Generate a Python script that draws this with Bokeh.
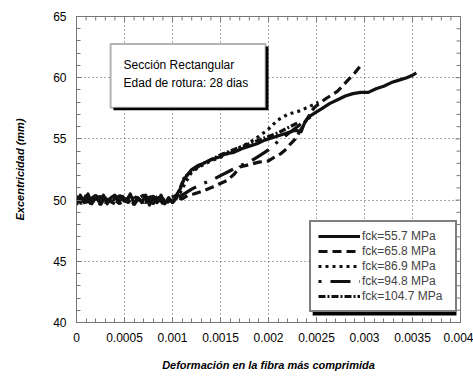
import numpy as np
from bokeh.plotting import figure
from bokeh.models import (Range1d, SingleIntervalTicker, NumeralTickFormatter,
                          Legend, LegendItem, BoxAnnotation, Label)
from bokeh.embed import file_html
from bokeh.resources import INLINE

FONT = "Liberation Sans"

# Strain in the most compressed fibre vs. eccentricity (mm), five concrete strengths
strain_557 = [0, 0.00004, 0.00008, 0.00012, 0.00016, 0.0002, 0.00024, 0.00028, 0.00032, 0.00036,
              0.0004, 0.00044, 0.00048, 0.00052, 0.00056, 0.0006, 0.00064, 0.00068, 0.00072, 0.00076,
              0.0008, 0.00084, 0.00088, 0.00092, 0.00096, 0.001, 0.00104,
              0.00108, 0.00112, 0.00116, 0.0012, 0.00126, 0.00132, 0.0014, 0.00148, 0.00156, 0.00164,
              0.00172, 0.0018, 0.00188, 0.00196, 0.00204, 0.00212, 0.0022, 0.00228, 0.00234, 0.00238,
              0.00242, 0.00248, 0.00256, 0.00264, 0.00272, 0.0028, 0.00288, 0.00296, 0.00304, 0.00312,
              0.0032, 0.00328, 0.00336, 0.00344, 0.0035, 0.00354]
exc_557 = [49.6, 50.4, 49.8, 50.5, 49.7, 50.3, 49.8, 50.4, 49.7, 50.2,
           50.4, 49.8, 50.3, 49.9, 50.5, 49.7, 50.2, 49.8, 50.4, 49.6,
           50.3, 49.8, 50.4, 49.7, 50.2, 49.8, 50.4,
           50.9, 51.7, 52.1, 52.5, 52.8, 53.0, 53.3, 53.5, 53.8, 53.9,
           54.2, 54.4, 54.6, 54.9, 55.1, 55.3, 55.5, 55.7, 55.6, 56.4,
           56.8, 57.1, 57.5, 57.9, 58.2, 58.5, 58.7, 58.8, 58.8, 59.1,
           59.3, 59.6, 59.8, 60.0, 60.2, 60.4]

strain_658 = [0, 0.00005, 0.0001, 0.00015, 0.0002, 0.00025, 0.0003, 0.00035, 0.0004, 0.00045,
              0.0005, 0.00055, 0.0006, 0.00065, 0.0007, 0.00075, 0.0008, 0.00085, 0.0009, 0.00095,
              0.001, 0.00105, 0.0011, 0.00116, 0.00122, 0.0013, 0.0014, 0.00148, 0.00157, 0.00164,
              0.0017, 0.0018, 0.0019, 0.002, 0.00206, 0.00213, 0.00219, 0.00223, 0.00228, 0.00234,
              0.0024, 0.00247, 0.00253, 0.0026, 0.00266, 0.00272, 0.00278, 0.00284, 0.0029, 0.00295]
exc_658 = [50.3, 49.7, 50.4, 49.8, 50.2, 49.6, 50.3, 49.9, 49.7, 50.4,
           49.8, 50.3, 49.6, 50.2, 50.4, 49.8, 50.1, 50.3, 49.7, 50.2,
           49.8, 50.2, 50.1, 50.4, 50.5, 50.7, 51.0, 51.3, 51.6, 52.1,
           52.7, 52.9, 53.1, 53.2, 53.5, 53.8, 54.2, 54.6, 55.0, 55.8,
           56.6, 57.5, 57.9, 58.3, 58.6, 58.9, 59.4, 59.9, 60.4, 60.9]

strain_869 = [0, 0.00006, 0.00012, 0.00018, 0.00024, 0.0003, 0.00036, 0.00042, 0.00048, 0.00054,
              0.0006, 0.00066, 0.00072, 0.00078, 0.00084, 0.0009, 0.00096, 0.00102,
              0.00108, 0.00114, 0.0012, 0.0013, 0.0014, 0.0015, 0.0016, 0.0017, 0.0018, 0.0019,
              0.002, 0.00209, 0.0022, 0.00233, 0.00244, 0.00252]
exc_869 = [50.1, 49.8, 50.3, 50.0, 49.7, 50.2, 49.9, 50.3, 50.1, 49.8,
           50.2, 50.0, 49.8, 50.3, 49.9, 50.1, 50.0, 50.3,
           50.6, 51.5, 52.3, 52.8, 53.2, 53.5, 53.9, 54.3, 54.7, 55.2,
           55.8, 56.5, 57.0, 57.3, 57.7, 58.0]

strain_948 = [0, 0.00005, 0.0001, 0.00015, 0.0002, 0.00025, 0.0003, 0.00035, 0.0004, 0.00045,
              0.0005, 0.00055, 0.0006, 0.00065, 0.0007, 0.00075, 0.0008, 0.00085, 0.0009, 0.00095,
              0.001, 0.00108, 0.0012, 0.0013, 0.0014, 0.0015, 0.0016, 0.0017, 0.0018, 0.0019,
              0.002, 0.0021, 0.0022, 0.0023, 0.0024, 0.00248]
exc_948 = [49.9, 50.3, 49.8, 50.1, 50.4, 49.9, 50.2, 49.7, 50.1, 50.3,
           49.9, 50.0, 50.3, 49.8, 50.2, 50.0, 49.7, 50.2, 50.1, 49.9,
           50.2, 50.3, 50.9, 51.3, 51.6, 52.0, 52.4, 52.8, 53.1, 53.6,
           54.1, 54.8, 55.4, 56.0, 56.6, 57.0]

strain_1047 = [0, 0.00005, 0.0001, 0.00015, 0.0002, 0.00025, 0.0003, 0.00035, 0.0004, 0.00045,
               0.0005, 0.00055, 0.0006, 0.00065, 0.0007, 0.00075, 0.0008, 0.00085, 0.0009, 0.00095,
               0.001, 0.00104, 0.00108, 0.00112, 0.0012, 0.0013, 0.0014, 0.0015, 0.0016, 0.0017,
               0.0018, 0.0019, 0.002, 0.0021, 0.0022, 0.0023]
exc_1047 = [50.3, 49.9, 50.1, 49.7, 50.2, 50.3, 49.8, 50.1, 50.0, 49.7,
            50.2, 49.9, 50.3, 50.1, 49.8, 50.2, 50.3, 49.9, 50.1, 49.8,
            50.3, 50.1, 51.0, 51.8, 52.4, 52.9, 53.3, 53.7, 54.0, 54.3,
            54.6, 54.9, 55.2, 55.5, 55.9, 56.3]

series_labels = ["fck=55.7 MPa", "fck=65.8 MPa", "fck=86.9 MPa", "fck=94.8 MPa", "fck=104.7 MPa"]

x_ticks = [0, 0.0005, 0.001, 0.0015, 0.002, 0.0025, 0.003, 0.0035, 0.004]
y_ticks = [40, 45, 50, 55, 60, 65]
N_MINOR = 5

p = figure(width=473, height=376, output_backend="svg", toolbar_location=None,
           x_range=Range1d(x_ticks[0], x_ticks[-1]), y_range=Range1d(y_ticks[0], y_ticks[-1]),
           min_border_left=76, min_border_right=13, min_border_top=16, min_border_bottom=54,
           background_fill_color="white", border_fill_color="white")
p.outline_line_color = "#777777"
p.outline_line_width = 1

x_ticker = SingleIntervalTicker(interval=x_ticks[1] - x_ticks[0], num_minor_ticks=N_MINOR)
y_ticker = SingleIntervalTicker(interval=y_ticks[1] - y_ticks[0], num_minor_ticks=N_MINOR)

AX_COLOR = "#777777"

def style_axis(ax):
    ax.axis_line_color = AX_COLOR
    ax.major_tick_line_color = AX_COLOR
    ax.minor_tick_line_color = AX_COLOR
    ax.major_tick_in = 5
    ax.major_tick_out = 0
    ax.minor_tick_in = 4
    ax.minor_tick_out = 0
    ax.major_label_text_font = FONT
    ax.major_label_text_font_size = "12px"
    ax.major_label_text_color = "black"
    ax.major_label_standoff = 10
    ax.axis_label_text_font = FONT
    ax.axis_label_text_font_size = "11px"
    ax.axis_label_text_font_style = "bold italic"
    ax.axis_label_text_color = "black"

xa = p.xaxis[0]
xa.ticker = x_ticker
xa.formatter = NumeralTickFormatter(format="0.[0000]")
style_axis(xa)
xa.axis_label = "Deformación en la fibra más comprimida"
xa.axis_label_standoff = 14

ya = p.yaxis[0]
ya.ticker = y_ticker
style_axis(ya)
ya.axis_label = "Excentricidad (mm)"
ya.axis_label_standoff = 24

for g in (p.xgrid[0], p.ygrid[0]):
    g.grid_line_color = "#555555"
    g.grid_line_dash = "1 3"
    g.grid_line_width = 1
p.xgrid[0].ticker = x_ticker
p.ygrid[0].ticker = y_ticker

# mirrored inward ticks on the top and right frame edges (clipped to the frame)
def tick_positions(ticks):
    major = np.array(ticks, dtype=float)
    step = (major[1] - major[0]) / N_MINOR
    minor = np.concatenate([major[i] + step * np.arange(1, N_MINOR) for i in range(len(major) - 1)])
    return major, minor

xmaj, xmin = tick_positions(x_ticks)
ymaj, ymin = tick_positions(y_ticks)
top = y_ticks[-1]
right = x_ticks[-1]
p.scatter(xmaj, [top] * len(xmaj), marker="dash", size=10, angle=np.pi / 2, line_color=AX_COLOR, line_width=1)
p.scatter(xmin, [top] * len(xmin), marker="dash", size=8, angle=np.pi / 2, line_color=AX_COLOR, line_width=1)
p.scatter([right] * len(ymaj), ymaj, marker="dash", size=10, line_color=AX_COLOR, line_width=1)
p.scatter([right] * len(ymin), ymin, marker="dash", size=8, line_color=AX_COLOR, line_width=1)

ink = "#111111"
lw = 3.2
r1 = p.line(strain_557, exc_557, line_color=ink, line_width=lw, line_join="round")
r2 = p.line(strain_658, exc_658, line_color=ink, line_width=lw, line_dash="9 5")
r3 = p.line(strain_869, exc_869, line_color=ink, line_width=lw, line_dash="3 4")
r4 = p.line(strain_948, exc_948, line_color=ink, line_width=lw, line_dash="3 9 20 9")
r5 = p.line(strain_1047, exc_1047, line_color=ink, line_width=lw, line_dash="7 2 2 2")

# note box with drop shadow
p.add_layout(BoxAnnotation(left=0.000385, right=0.00200, top=62.55, bottom=57.35,
                           fill_color="black", fill_alpha=1, line_alpha=0, level="annotation"))
p.add_layout(BoxAnnotation(left=0.000355, right=0.00197, top=62.75, bottom=57.55,
                           fill_color="white", fill_alpha=1, line_color="black", line_width=2,
                           level="annotation"))
for txt, yy in (("Sección Rectangular", 61.0), ("Edad de rotura: 28 dias", 59.6)):
    p.add_layout(Label(x=0.00049, y=yy, text=txt, text_font=FONT, text_font_size="12px",
                       text_baseline="middle", text_color="black"))

# legend shadow
p.add_layout(BoxAnnotation(left=0.00246, right=0.003958, top=47.7, bottom=40.57,
                           fill_color="black", fill_alpha=1, line_alpha=0, level="annotation"))

legend = Legend(items=[LegendItem(label=l, renderers=[r]) for l, r in
                       zip(series_labels, [r1, r2, r3, r4, r5])],
                location=(233, 10), orientation="vertical",
                border_line_color="black", border_line_width=2,
                background_fill_color="white", background_fill_alpha=1,
                label_text_font=FONT, label_text_font_size="12px",
                glyph_width=42, glyph_height=14, label_height=14, label_width=86,
                label_standoff=2, spacing=1, padding=7, margin=0)
p.add_layout(legend)

open("out.html", "w").write(file_html(p, INLINE))
